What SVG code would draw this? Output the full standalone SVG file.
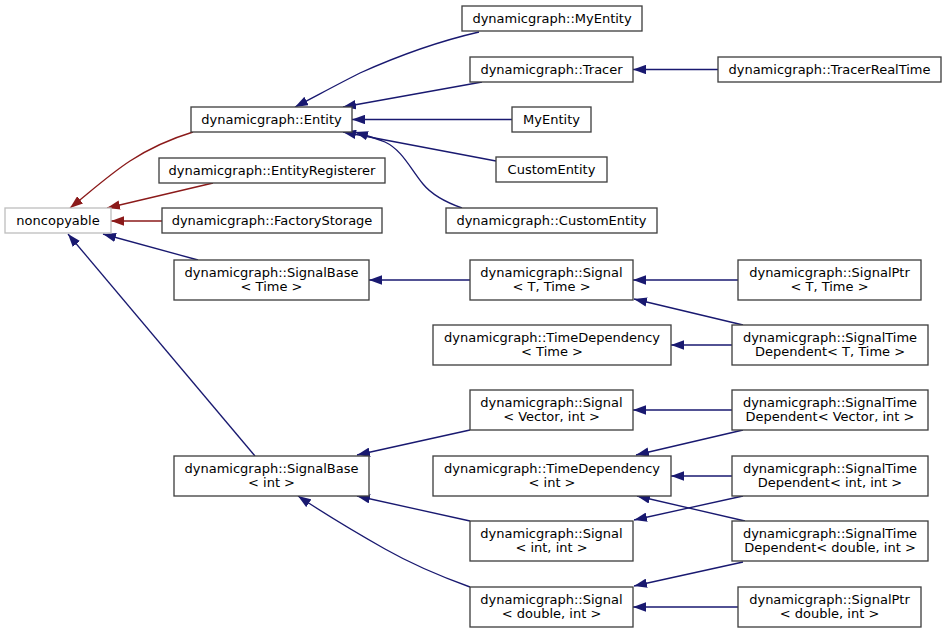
<svg xmlns="http://www.w3.org/2000/svg" width="947" height="633" viewBox="0 0 947 633">
<style>
.n rect{fill:#fff;stroke:#404040;stroke-width:1.33}
.g rect{stroke:#bfbfbf}
text{font-family:"DejaVu Sans","Liberation Sans",sans-serif;font-size:13px;fill:#000;text-anchor:middle}
.b{fill:none;stroke:#191970;stroke-width:1.33;marker-end:url(#ab)}
.r{fill:none;stroke:#8b1a1a;stroke-width:1.33;marker-end:url(#ar)}
</style>
<defs>
<marker id="ab" markerUnits="userSpaceOnUse" viewBox="0 0 13 9.4" refX="13" refY="4.7" markerWidth="13" markerHeight="9.4" orient="auto"><path d="M0,0L13,4.7L0,9.4z" fill="#191970"/></marker>
<marker id="ar" markerUnits="userSpaceOnUse" viewBox="0 0 13 9.4" refX="13" refY="4.7" markerWidth="13" markerHeight="9.4" orient="auto"><path d="M0,0L13,4.7L0,9.4z" fill="#8b1a1a"/></marker>
</defs>
<rect width="947" height="633" fill="#fff"/>
<g id="edges">
<path class="r" d="M193,132C170,139 150,148 130,161C110,174 90,192 70,208"/>
<path class="r" d="M213,183L107,208"/>
<path class="r" d="M162,221L111,221"/>
<path class="b" d="M198,260L103,234"/>
<path class="b" d="M255,456L68,234"/>
<path class="b" d="M479,32C440,41 400,55 360,73C340,83 318,95 295,107"/>
<path class="b" d="M482,82L343,107"/>
<path class="b" d="M512,119.5L352,119.5"/>
<path class="b" d="M496,161L343,132"/>
<path class="b" d="M462,208C445,202 432,195 423,184C410,168 402,150 385,142C375,138 365,135 355,132"/>
<path class="b" d="M718,69.5L633,69.5"/>
<path class="b" d="M470,280L369,280"/>
<path class="b" d="M738,280L633,280"/>
<path class="b" d="M743,325L634,299"/>
<path class="b" d="M732,345L671,345"/>
<path class="b" d="M470,430L357,455"/>
<path class="b" d="M732,410L633,410"/>
<path class="b" d="M743,430L636,455"/>
<path class="b" d="M732,476L671,476"/>
<path class="b" d="M743,496L634,520"/>
<path class="b" d="M745,521L637,496"/>
<path class="b" d="M470,521L357,496"/>
<path class="b" d="M470,587C445,578 415,566 385,549C355,532 325,514 298,496"/>
<path class="b" d="M743,562L634,586"/>
<path class="b" d="M738,607L633,607"/>
</g>
<g id="noncopyable" class="n g"><rect x="5" y="208" width="106" height="25"/><text x="58" y="225">noncopyable</text></g>
<g id="Entity" class="n"><rect x="191" y="107" width="161" height="25"/><text x="271.5" y="124">dynamicgraph::Entity</text></g>
<g id="EntityRegisterer" class="n"><rect x="159" y="158" width="226" height="25"/><text x="272" y="175">dynamicgraph::EntityRegisterer</text></g>
<g id="FactoryStorage" class="n"><rect x="162" y="208" width="220" height="25"/><text x="272" y="225">dynamicgraph::FactoryStorage</text></g>
<g id="dgMyEntity" class="n"><rect x="462" y="6" width="180" height="25"/><text x="552" y="23">dynamicgraph::MyEntity</text></g>
<g id="Tracer" class="n"><rect x="470" y="57" width="163" height="25"/><text x="551.5" y="74">dynamicgraph::Tracer</text></g>
<g id="TracerRealTime" class="n"><rect x="718" y="57" width="223" height="25"/><text x="829.5" y="74">dynamicgraph::TracerRealTime</text></g>
<g id="MyEntity" class="n"><rect x="512" y="107" width="79" height="25"/><text x="551.5" y="124">MyEntity</text></g>
<g id="CustomEntity" class="n"><rect x="496" y="157" width="111" height="25"/><text x="551.5" y="174">CustomEntity</text></g>
<g id="dgCustomEntity" class="n"><rect x="446" y="208" width="211" height="25"/><text x="551.5" y="225">dynamicgraph::CustomEntity</text></g>
<g id="SignalBaseTime" class="n"><rect x="174" y="260" width="195" height="40"/><text x="271.5" y="277">dynamicgraph::SignalBase</text><text x="271.5" y="291">&lt; Time &gt;</text></g>
<g id="SignalBaseInt" class="n"><rect x="174" y="456" width="195" height="40"/><text x="271.5" y="473">dynamicgraph::SignalBase</text><text x="271.5" y="487">&lt; int &gt;</text></g>
<g id="SignalTTime" class="n"><rect x="470" y="260" width="163" height="40"/><text x="551.5" y="277">dynamicgraph::Signal</text><text x="551.5" y="291">&lt; T, Time &gt;</text></g>
<g id="SignalPtrTTime" class="n"><rect x="738" y="260" width="183" height="40"/><text x="829.5" y="277">dynamicgraph::SignalPtr</text><text x="829.5" y="291">&lt; T, Time &gt;</text></g>
<g id="TimeDepTime" class="n"><rect x="433" y="325" width="238" height="40"/><text x="552" y="342">dynamicgraph::TimeDependency</text><text x="552" y="356">&lt; Time &gt;</text></g>
<g id="STDTTime" class="n"><rect x="732" y="325" width="196" height="40"/><text x="830" y="342">dynamicgraph::SignalTime</text><text x="830" y="356">Dependent&lt; T, Time &gt;</text></g>
<g id="SignalVectorInt" class="n"><rect x="470" y="390" width="163" height="40"/><text x="551.5" y="407">dynamicgraph::Signal</text><text x="551.5" y="421">&lt; Vector, int &gt;</text></g>
<g id="STDVectorInt" class="n"><rect x="732" y="390" width="196" height="40"/><text x="830" y="407">dynamicgraph::SignalTime</text><text x="830" y="421">Dependent&lt; Vector, int &gt;</text></g>
<g id="TimeDepInt" class="n"><rect x="433" y="456" width="238" height="40"/><text x="552" y="473">dynamicgraph::TimeDependency</text><text x="552" y="487">&lt; int &gt;</text></g>
<g id="STDIntInt" class="n"><rect x="732" y="456" width="196" height="40"/><text x="830" y="473">dynamicgraph::SignalTime</text><text x="830" y="487">Dependent&lt; int, int &gt;</text></g>
<g id="SignalIntInt" class="n"><rect x="470" y="521" width="163" height="40"/><text x="551.5" y="538">dynamicgraph::Signal</text><text x="551.5" y="552">&lt; int, int &gt;</text></g>
<g id="STDDoubleInt" class="n"><rect x="732" y="521" width="196" height="40"/><text x="830" y="538">dynamicgraph::SignalTime</text><text x="830" y="552">Dependent&lt; double, int &gt;</text></g>
<g id="SignalDoubleInt" class="n"><rect x="470" y="587" width="163" height="40"/><text x="551.5" y="604">dynamicgraph::Signal</text><text x="551.5" y="618">&lt; double, int &gt;</text></g>
<g id="SignalPtrDoubleInt" class="n"><rect x="738" y="587" width="183" height="40"/><text x="829.5" y="604">dynamicgraph::SignalPtr</text><text x="829.5" y="618">&lt; double, int &gt;</text></g>
</svg>
